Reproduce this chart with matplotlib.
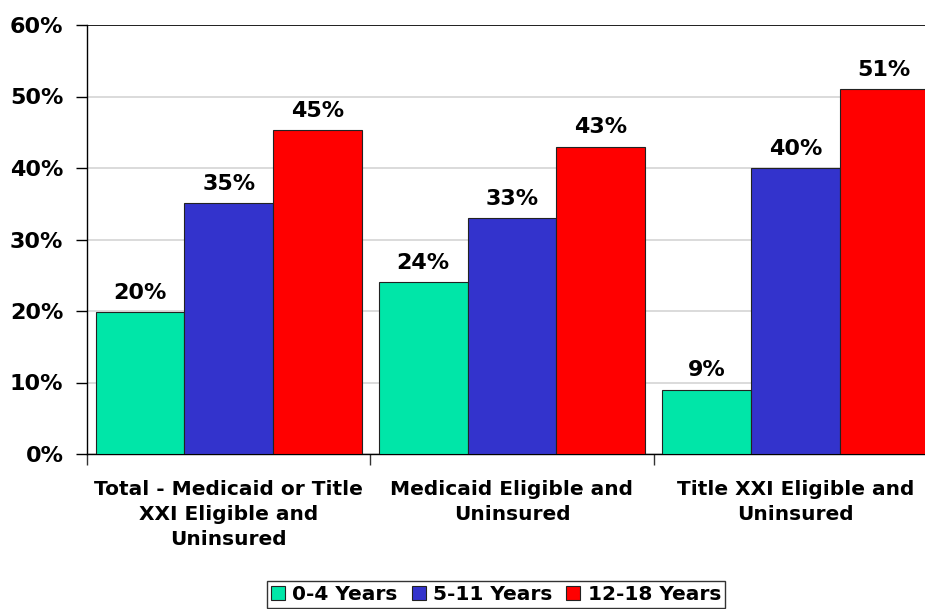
import matplotlib
matplotlib.use("Agg")
import matplotlib.pyplot as plt
import numpy as np
from matplotlib.ticker import FixedLocator, PercentFormatter

categories = ["Total - Medicaid or Title\nXXI Eligible and\nUninsured",
              "Medicaid Eligible and\nUninsured",
              "Title XXI Eligible and\nUninsured"]
series_names = ["0-4 Years", "5-11 Years", "12-18 Years"]
age_0_4 = [19.8, 24.0, 9.0]
age_5_11 = [35.1, 33.0, 40.0]
age_12_18 = [45.3, 43.0, 51.0]
labels_0_4 = ["20%", "24%", "9%"]
labels_5_11 = ["35%", "33%", "40%"]
labels_12_18 = ["45%", "43%", "51%"]
colors = ["#00E6A8", "#3333CC", "#FF0000"]
yticks = [0, 10, 20, 30, 40, 50, 60]

plt.rcParams['font.family'] = ['DejaVu Sans']
plt.rcParams['font.weight'] = 'bold'

W, H = 925, 609
fig = plt.figure(figsize=(W/100, H/100), dpi=100)
left, right, top, bottom = 87, 937, 25, 454
ax = fig.add_axes([left/W, (H-bottom)/H, (right-left)/W, (bottom-top)/H])

x = np.arange(len(categories))
bw = 0.3133
series = [age_0_4, age_5_11, age_12_18]
labs = [labels_0_4, labels_5_11, labels_12_18]
for i, (vals, lab, c, name) in enumerate(zip(series, labs, colors, series_names)):
    pos = x + (i - 1) * bw
    bars = ax.bar(pos, vals, width=bw, color=c, edgecolor="#222222", linewidth=0.8,
                  label=name, zorder=3)
    for b, v, t in zip(bars, vals, lab):
        ax.text(b.get_x() + b.get_width()/2, v + 1.3, t, ha="center", va="bottom",
                fontsize=16, fontweight="bold", color="black", zorder=4)

ax.set_xlim(-0.5, 2.5)
ax.set_ylim(0, 60)
ax.yaxis.set_major_locator(FixedLocator(yticks))
ax.yaxis.set_major_formatter(PercentFormatter(decimals=0))
ax.grid(axis="y", color="#d4d4d4", linewidth=1.2, zorder=0)
ax.axhline(60, color="black", linewidth=1.2, zorder=2)
for s in ["top", "right"]:
    ax.spines[s].set_visible(False)
ax.spines["left"].set_linewidth(1.0)
ax.spines["bottom"].set_linewidth(1.0)

ax.set_xticks([-0.5, 0.5, 1.5, 2.5])
ax.set_xticklabels([])
ax.tick_params(axis="x", direction="out", length=8, width=1, color="#333333")
ax.tick_params(axis="y", direction="out", length=8, width=1, labelsize=16, pad=9)
for t in ax.get_yticklabels():
    t.set_fontweight("bold")

for xi, cat in zip(x, categories):
    ax.text(xi, -3.6, cat, ha="center", va="top", fontsize=14.5, fontweight="bold",
            linespacing=1.4, transform=ax.transData)

leg = fig.legend(loc="upper center", bbox_to_anchor=(496/W, 1 - 581/H), ncol=3,
                 frameon=True, fancybox=False, edgecolor="black",
                 handlelength=0.7, handleheight=0.7, handletextpad=0.35,
                 columnspacing=0.7, borderpad=0.2, borderaxespad=0,
                 prop={'weight': 'bold', 'size': 14.5})
leg.get_frame().set_linewidth(1.0)

fig.savefig("out.png", dpi=100)
